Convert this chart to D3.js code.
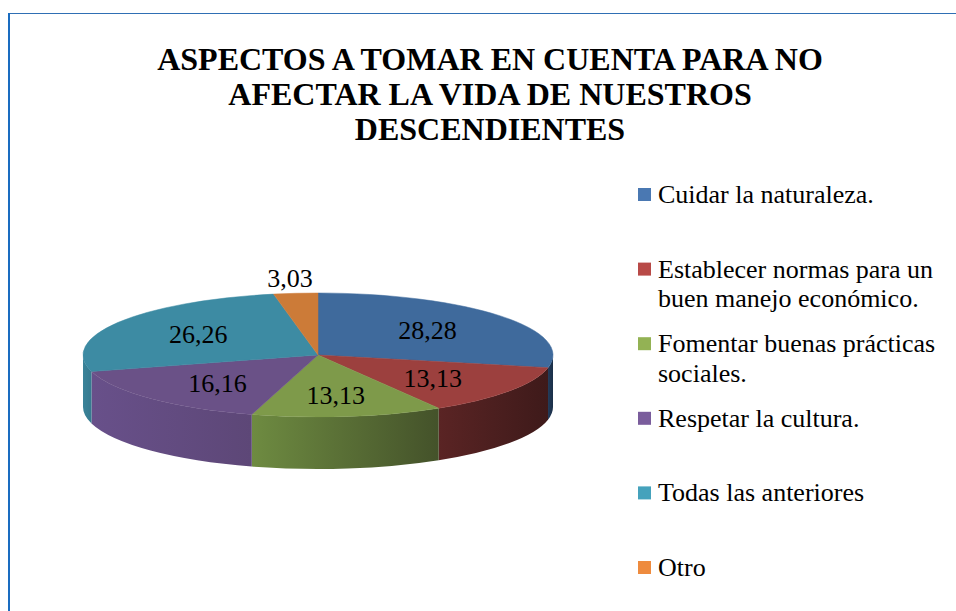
<!DOCTYPE html>
<html>
<head>
<meta charset="utf-8">
<script src="https://cdn.jsdelivr.net/npm/d3@7/dist/d3.min.js"></script>
<style>
  body { margin: 0; background: #fff; }
</style>
</head>
<body>
<div id="chart"></div>
<script>
// data
var categories = [
  "Cuidar la naturaleza.",
  "Establecer normas para un buen manejo económico.",
  "Fomentar buenas prácticas sociales.",
  "Respetar la cultura.",
  "Todas las anteriores",
  "Otro"
];
var values = [28.28, 13.13, 13.13, 16.16, 26.26, 3.03];
var valueLabels = ["28,28", "13,13", "13,13", "16,16", "26,26", "3,03"];
var legendLines = [
  ["Cuidar la naturaleza."],
  ["Establecer normas para un", "buen manejo económico."],
  ["Fomentar buenas prácticas", "sociales."],
  ["Respetar la cultura."],
  ["Todas las anteriores"],
  ["Otro"]
];
var titleLines = ["ASPECTOS A TOMAR EN CUENTA PARA NO", "AFECTAR LA VIDA DE NUESTROS", "DESCENDIENTES"];

// colours
var topColors = ["#3f6a9c", "#9c403e", "#7e9a4a", "#6a5187", "#3d8ba3", "#cc7b38"];
var sideLeft  = ["#223a58", "#5a2424", "#6e8b41", "#68508a", "#3a8399", "#b86e30"];
var sideRight = ["#1b2f48", "#3e1a1a", "#44522a", "#5d4777", "#367a8f", "#a8652c"];
var legendColors = ["#4a78b2", "#b84a47", "#93b254", "#7a5d9c", "#45a2bc", "#ee8b3e"];

// pick the first serif face that is really installed
var candidates = ["Liberation Serif", "Times New Roman", "Tinos", "DejaVu Serif", "Noto Serif", "FreeSerif", "Nimbus Roman", "Times"];
var ctx = document.createElement("canvas").getContext("2d");
function w(f) { ctx.font = "40px " + f; return ctx.measureText("AaBbWwIil1,.mMxyz").width; }
var base1 = w("monospace");
var found = candidates.find(c => {
  var a = w('"' + c + '", monospace'), b = w('"' + c + '", sans-serif');
  return a === b && a !== base1;
});
var serif = (found ? '"' + found + '", ' : "") + "serif";

var svgWidth = 956;
var svgHeight = 611;

var svg = d3.select("#chart")
  .append("svg")
  .attr("width", svgWidth)
  .attr("height", svgHeight)
  .style("font-family", serif);

// frame lines
svg.append("line")
  .attr("x1", 8).attr("y1", 13.5).attr("x2", svgWidth).attr("y2", 13.5)
  .attr("stroke", "#2f6fb4").attr("stroke-width", 1.2);
svg.append("line")
  .attr("x1", 9).attr("y1", 13).attr("x2", 9).attr("y2", svgHeight)
  .attr("stroke", "#1a6cc0").attr("stroke-width", 2);

// title
svg.append("g").selectAll("text")
  .data(titleLines).enter()
  .append("text")
  .attr("x", 490)
  .attr("y", (d, i) => 70 + i * 35)
  .attr("text-anchor", "middle")
  .attr("font-size", 32)
  .attr("font-weight", "bold")
  .attr("fill", "#000")
  .text(d => d);

// 3D pie
var cx = 318, cy = 355, rx = 235, ry = 62, depth = 52;

var pie = d3.pie().sort(null).startAngle(0).endAngle(2 * Math.PI);
var arcs = pie(values);

function pt(a, k, dy) {
  k = k || 1; dy = dy || 0;
  return [cx + rx * k * Math.sin(a), cy - ry * k * Math.cos(a) + dy];
}

var defs = svg.append("defs");
var chartGroup = svg.append("g");

// side walls (front half only)
arcs.forEach(function(d, i) {
  var s = Math.max(d.startAngle, Math.PI / 2);
  var e = Math.min(d.endAngle, 3 * Math.PI / 2);
  if (s >= e) return;
  var p0 = pt(s), p1 = pt(e);
  var large = (e - s) > Math.PI ? 1 : 0;
  var gid = "side" + i;
  var xs = [p0[0], p1[0]];
  var grad = defs.append("linearGradient")
    .attr("id", gid)
    .attr("gradientUnits", "userSpaceOnUse")
    .attr("x1", d3.min(xs)).attr("x2", d3.max(xs))
    .attr("y1", 0).attr("y2", 0);
  grad.append("stop").attr("offset", "0%").attr("stop-color", sideLeft[i]);
  grad.append("stop").attr("offset", "100%").attr("stop-color", sideRight[i]);
  var path = "M" + p0 +
    " A" + rx + "," + ry + " 0 " + large + " 1 " + p1 +
    " L" + [p1[0], p1[1] + depth] +
    " A" + rx + "," + ry + " 0 " + large + " 0 " + [p0[0], p0[1] + depth] + " Z";
  chartGroup.append("path")
    .attr("d", path)
    .attr("fill", "url(#" + gid + ")");
});

// top faces
chartGroup.selectAll(".top")
  .data(arcs).enter()
  .append("path")
  .attr("class", "top")
  .attr("d", function(d) {
    var p0 = pt(d.startAngle), p1 = pt(d.endAngle);
    var large = (d.endAngle - d.startAngle) > Math.PI ? 1 : 0;
    return "M" + [cx, cy] + " L" + p0 +
      " A" + rx + "," + ry + " 0 " + large + " 1 " + p1 + " Z";
  })
  .attr("fill", (d, i) => topColors[i])
  .attr("stroke", (d, i) => topColors[i])
  .attr("stroke-width", 0.5);

// data labels
function labelPos(d) {
  var m = (d.startAngle + d.endAngle) / 2;
  if (d.value < 5) return pt(m, 1.25);
  return [cx + rx * 0.6 * Math.sin(m), cy - ry * 0.65 * Math.cos(m)];
}

chartGroup.selectAll(".lbl")
  .data(arcs).enter()
  .append("text")
  .attr("class", "lbl")
  .attr("x", d => labelPos(d)[0])
  .attr("y", d => labelPos(d)[1])
  .attr("dy", "0.35em")
  .attr("text-anchor", "middle")
  .attr("font-size", 26)
  .attr("fill", "#000")
  .text((d, i) => valueLabels[i]);

// legend
var legend = svg.append("g")
  .attr("transform", "translate(638, 203)");

var items = legend.selectAll("g")
  .data(categories).enter()
  .append("g")
  .attr("transform", (d, i) => `translate(0, ${i * 74.6})`);

items.append("rect")
  .attr("x", 0).attr("y", -15)
  .attr("width", 13).attr("height", 13)
  .attr("fill", (d, i) => legendColors[i]);

items.append("text")
  .attr("x", 20)
  .attr("font-size", 26)
  .attr("fill", "#000")
  .selectAll("tspan")
  .data((d, i) => legendLines[i]).enter()
  .append("tspan")
  .attr("x", 20)
  .attr("y", (d, j) => j * 29.5)
  .text(d => d);
</script>
</body>
</html>
